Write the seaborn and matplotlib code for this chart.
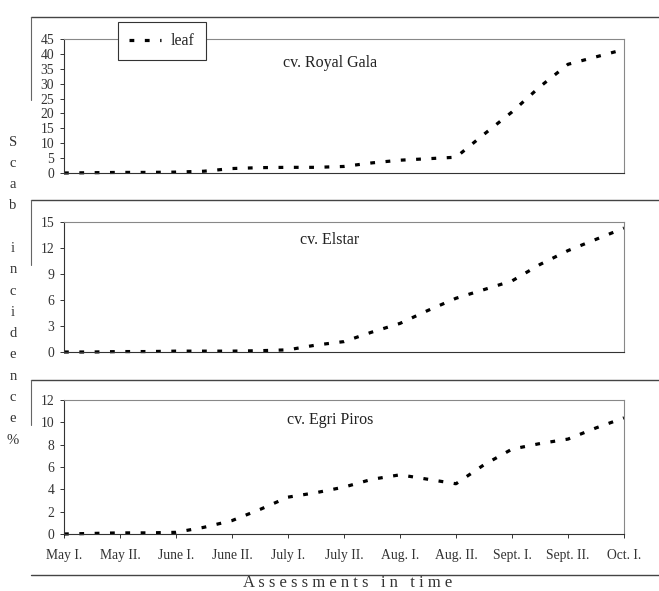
import numpy as np
import matplotlib
matplotlib.use("Agg")
import matplotlib.pyplot as plt
import seaborn as sns

# assessment labels (ticks), readings taken twice per interval
assessments = ["May I.", "May II.", "June I.", "June II.", "July I.", "July II.",
               "Aug. I.", "Aug. II.", "Sept. I.", "Sept. II.", "Oct. I."]
x_pos = np.arange(21) / 2

royal_gala = [0, 0.1, 0.2, 0.2, 0.3, 0.6, 1.5, 1.8, 1.9, 1.9, 2.2, 3.4, 4.3, 4.8,
              5.3, 13.0, 20.5, 29.0, 36.5, 39.0, 41.5]
elstar = [0, 0, 0.05, 0.05, 0.1, 0.1, 0.1, 0.15, 0.25, 0.8, 1.2, 2.3, 3.3, 4.8,
          6.2, 7.2, 8.2, 10.1, 11.7, 13.0, 14.3]
egri_piros = [0, 0.05, 0.1, 0.1, 0.15, 0.6, 1.2, 2.2, 3.3, 3.7, 4.2, 4.9, 5.3, 4.9,
              4.5, 6.2, 7.6, 8.1, 8.5, 9.5, 10.4]

panels = [("cv. Royal Gala", royal_gala, 45, 5, 0.82),
          ("cv. Elstar", elstar, 15, 3, 0.86),
          ("cv. Egri Piros", egri_piros, 12, 2, 0.85)]

sns.set_style("white")
plt.rcParams['font.family'] = ['Liberation Serif', 'DejaVu Serif']

fig = plt.figure(figsize=(6.59, 5.91), dpi=100)
W, H = 659, 591
boxes = [(39, 173), (222, 352), (400, 534)]  # top, bottom in px

axes = []
for i, ((title, vals, ymax, step, ty), (top, bot)) in enumerate(zip(panels, boxes)):
    ax = fig.add_axes([64 / W, 1 - bot / H, 560 / W, (bot - top) / H])
    sns.lineplot(x=x_pos, y=vals, ax=ax, color='black', linewidth=2.3)
    ax.lines[0].set_dashes((1.5, 3.3))
    ax.lines[0].set_clip_on(False)
    ax.set_xlim(0, 10)
    ax.set_ylim(0, ymax)
    ax.set_yticks(np.arange(0, ymax + 1, step))
    ax.tick_params(axis='y', labelsize=9.8, length=3, width=0.7, direction='out',
                   left=True, pad=4, colors='#333333')
    ax.set_xticks(np.arange(11))
    if i == 2:
        ax.set_xticklabels(assessments)
        ax.tick_params(axis='x', labelsize=9.8, length=3, width=0.7,
                       direction='out', bottom=True, pad=8, colors='#333333')
    else:
        ax.set_xticklabels([])
        ax.tick_params(axis='x', bottom=False)
    for s in ['top', 'right']:
        ax.spines[s].set_linestyle((0, (1, 1)))
        ax.spines[s].set_color('#888888')
        ax.spines[s].set_linewidth(0.8)
    for s in ['left', 'bottom']:
        ax.spines[s].set_color('#333333')
        ax.spines[s].set_linewidth(0.8)
    ax.set_xlabel('')
    ax.set_ylabel('')
    ax.text(0.475, ty, title, transform=ax.transAxes, ha='center', va='center',
            fontsize=11.5, color='#222222')
    axes.append(ax)

# legend on top panel
leg = axes[0].legend(axes[0].lines[:1], ['leaf'], loc='upper left',
                     bbox_to_anchor=(0.096, 1.127), borderaxespad=0,
                     frameon=True, fancybox=False, fontsize=11.5,
                     handlelength=2.0, handletextpad=0.6, borderpad=0.7,
                     edgecolor='#333333', framealpha=1)
leg.get_frame().set_linewidth(0.8)

# outer panel frame lines
for y in [17, 200, 380, 575]:
    fig.add_artist(plt.Line2D([31 / W, 1], [1 - y / H, 1 - y / H],
                              color='#444444', linewidth=1.0))
for y0, y1 in [(17, 100), (200, 265), (380, 425)]:
    fig.add_artist(plt.Line2D([31 / W, 31 / W], [1 - y0 / H, 1 - y1 / H],
                              color='#666666', linewidth=0.8))

# stacked vertical y-axis label
ylab = ["S", "c", "a", "b", "", "i", "n", "c", "i", "d", "e", "n", "c", "e", "%"]
for k, ch in enumerate(ylab):
    fig.text(13 / W, 1 - (142 + k * 21.3) / H, ch, ha='center', va='center',
             fontsize=10.5, color='#333333')

fig.text(348 / W, 1 - 583 / H, "A s s e s s m e n t s   i n   t i m e",
         ha='center', va='center', fontsize=12, color='#333333')

fig.savefig("out.png", dpi=100)
